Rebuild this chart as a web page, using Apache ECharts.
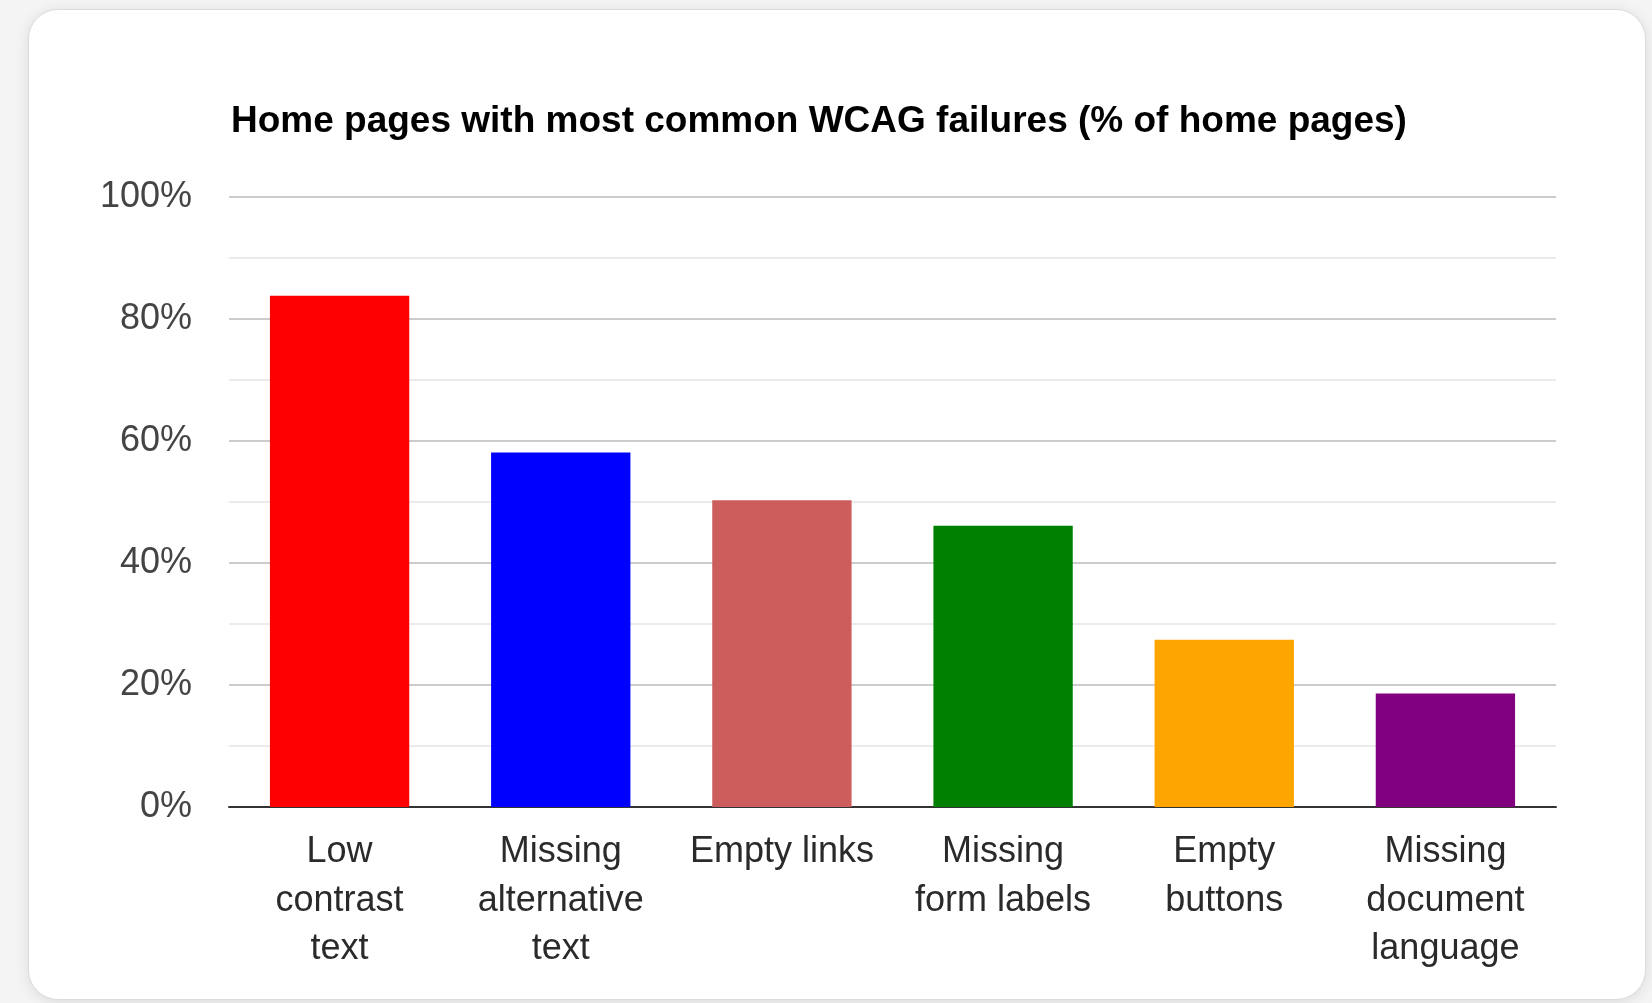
<!DOCTYPE html>
<html>
<head>
<meta charset="utf-8">
<script src="https://cdn.jsdelivr.net/npm/echarts@6/dist/echarts.min.js"></script>
<style>
  html, body { margin: 0; padding: 0; width: 1652px; height: 1003px; background: #f4f4f4; overflow: hidden; }
  #card { position: absolute; left: 28px; top: 9px; width: 1618px; height: 991px; background: #fff;
          border: 1px solid #dcdcdc; border-radius: 30px; box-shadow: 0 2px 14px rgba(0,0,0,0.10); box-sizing: border-box; }
  #chart { position: absolute; left: 0; top: 0; width: 1652px; height: 1003px; }
</style>
</head>
<body>
<div id="card"></div>
<div id="chart"></div>
<script>
const titleText = 'Home pages with most common WCAG failures (% of home pages)';
const categories = ['Low\ncontrast\ntext', 'Missing\nalternative\ntext', 'Empty links', 'Missing\nform labels', 'Empty\nbuttons', 'Missing\ndocument\nlanguage'];
const values = [83.8, 58.1, 50.3, 46.1, 27.4, 18.6];
const barColors = ['#ff0000', '#0000ff', '#cd5c5c', '#008000', '#ffa500', '#800080'];
const yTicks = [0, 20, 40, 60, 80, 100];

const chart = echarts.init(document.getElementById('chart'), null, { renderer: 'canvas' });
chart.setOption({
  backgroundColor: 'transparent',
  animation: false,
  title: {
    text: titleText,
    left: 226,
    top: 98,
    textStyle: { fontFamily: 'Liberation Sans', fontSize: 37, fontWeight: 'bold', color: '#000', lineHeight: 37 }
  },
  grid: { left: 229, right: 96, top: 197, bottom: 196, containLabel: false },
  xAxis: {
    type: 'category',
    data: categories,
    axisLine: { show: true, lineStyle: { color: '#333', width: 2 } },
    axisTick: { show: false },
    axisLabel: {
      interval: 0,
      margin: 21,
      fontFamily: 'Liberation Sans',
      fontSize: 36,
      lineHeight: 48.5,
      color: '#2a2a2a'
    }
  },
  yAxis: {
    type: 'value',
    min: yTicks[0],
    max: yTicks[yTicks.length - 1],
    interval: 20,
    axisLine: { show: false },
    axisTick: { show: false },
    axisLabel: {
      margin: 37,
      fontFamily: 'Liberation Sans',
      fontSize: 36,
      color: '#444',
      formatter: v => v + '%'
    },
    splitLine: { show: true, lineStyle: { color: '#cccccc', width: 2 } },
    minorTick: { show: false, splitNumber: 2 },
    minorSplitLine: { show: true, lineStyle: { color: '#ebebeb', width: 2 } }
  },
  series: [{
    type: 'bar',
    barWidth: '63%',
    data: values.map((v, i) => ({ value: v, itemStyle: { color: barColors[i] } }))
  }]
});
</script>
</body>
</html>
